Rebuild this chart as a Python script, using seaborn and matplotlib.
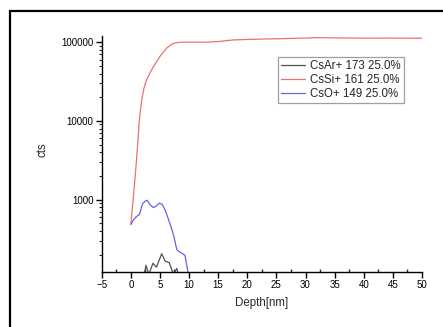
import numpy as np
import pandas as pd
import matplotlib
matplotlib.use("Agg")
import matplotlib.pyplot as plt
import matplotlib.patches as mpatches
from matplotlib.ticker import FixedLocator, LogLocator, NullFormatter, FixedFormatter
import seaborn as sns

# ---- data ----
csar_depth = [0.0, 1.0, 2.0, 2.3, 2.6, 3.1, 3.8, 4.4, 5.3, 5.9, 6.6, 7.3, 7.9, 8.4, 9.0, 10.0]
csar_cts = [60, 70, 80, 110, 146, 112, 155, 138, 205, 165, 158, 112, 133, 95, 80, 70]

cssi_depth = [0.0, 0.45, 0.9, 1.2, 1.45, 1.85, 2.25, 2.7, 3.3, 3.9, 5.0, 6.15, 7.0, 7.6, 8.5,
              10.0, 13.0, 15.0, 17.6, 20.0, 23.3, 26.0, 28.0, 30.0, 32.0, 35.0, 38.0,
              41.0, 44.0, 47.0, 50.0]
cssi_cts = [490, 1100, 2700, 5300, 10000, 18000, 26000, 33000, 41000, 49000, 66000,
            84000, 94000, 98000, 100000, 100500, 100000, 102000, 107000, 108500,
            110000, 111000, 112000, 113000, 114500, 113500, 113000, 112500, 113000,
            112500, 112500]

cso_depth = [0.0, 0.5, 1.0, 1.5, 2.0, 2.5, 2.8, 3.3, 3.9, 4.4, 4.9, 5.4, 5.9, 6.4,
             6.9, 7.4, 7.9, 8.4, 8.9, 9.3, 9.9]
cso_cts = [480, 560, 610, 650, 880, 960, 980, 860, 790, 830, 900, 870, 730, 580,
           450, 340, 230, 215, 205, 195, 110]

labels = ["CsAr+ 173 25.0%", "CsSi+ 161 25.0%", "CsO+ 149 25.0%"]
x_ticks = [-5, 0, 5, 10, 15, 20, 25, 30, 35, 40, 45, 50]
y_ticks = [1000, 10000, 100000]
y_ticklabels = ["1000", "10000", "100000"]

df = pd.concat([
    pd.DataFrame({"Depth": csar_depth, "cts": csar_cts, "series": labels[0]}),
    pd.DataFrame({"Depth": cssi_depth, "cts": cssi_cts, "series": labels[1]}),
    pd.DataFrame({"Depth": cso_depth, "cts": cso_cts, "series": labels[2]}),
], ignore_index=True)

sns.set_style("ticks")
plt.rcParams["font.family"] = ["Liberation Sans", "DejaVu Sans"]

fig = plt.figure(figsize=(4.43, 3.27), dpi=100)
W, H = 443, 327
ax = fig.add_axes([101.7 / W, 1 - 272 / H, (422 - 101.7) / W, (272 - 36) / H])

palette = {labels[0]: "#505050", labels[1]: "#f07070", labels[2]: "#6464e6"}
sns.lineplot(data=df, x="Depth", y="cts", hue="series", palette=palette,
             sort=False, estimator=None, linewidth=0.9, ax=ax)

ax.set_yscale("log")
ax.set_xlim(-5, 50)
ax.set_ylim(120, 120000)

ax.xaxis.set_major_locator(FixedLocator(x_ticks))
ax.xaxis.set_minor_locator(FixedLocator([t + 2.5 for t in x_ticks[:-1]]))
ax.yaxis.set_major_locator(FixedLocator(y_ticks))
ax.yaxis.set_major_formatter(FixedFormatter(y_ticklabels))
ax.yaxis.set_minor_locator(LogLocator(base=10, subs=np.arange(2, 10)))
ax.yaxis.set_minor_formatter(NullFormatter())

for s in ["top", "right"]:
    ax.spines[s].set_visible(False)
for s in ["left", "bottom"]:
    ax.spines[s].set_linewidth(1.0)
    ax.spines[s].set_color("black")

ax.tick_params(axis="x", which="major", direction="out", length=4, width=1,
               labelsize=7, pad=2, colors="black")
ax.tick_params(axis="x", which="minor", direction="in", length=2.5, width=1)
ax.tick_params(axis="y", which="major", direction="out", length=4, width=1,
               labelsize=7, pad=2, colors="black")
ax.tick_params(axis="y", which="minor", direction="out", length=2.5, width=0.8)

ax.set_xlabel("Depth[nm]", fontsize=8.3, labelpad=5)
ax.set_ylabel("cts", fontsize=8.3)
ax.yaxis.set_label_coords(-0.166, 0.517)

leg = ax.legend(loc="upper left", bbox_to_anchor=(0.550, 0.911), borderaxespad=0,
                fontsize=8.3, frameon=True, fancybox=False, handlelength=2.1,
                handletextpad=0.45, borderpad=0.25, labelspacing=0.2)
leg.get_frame().set_edgecolor("#888888")
leg.get_frame().set_linewidth(0.9)
for line in leg.get_lines():
    line.set_linewidth(0.9)

# outer frame of the picture
rect = mpatches.Rectangle((10 / W, -0.1), 1.2, 1 - 11 / H + 0.1, transform=fig.transFigure,
                          fill=False, edgecolor="black", linewidth=1.6, clip_on=False)
fig.patches.append(rect)

fig.savefig("out.png", dpi=100)
